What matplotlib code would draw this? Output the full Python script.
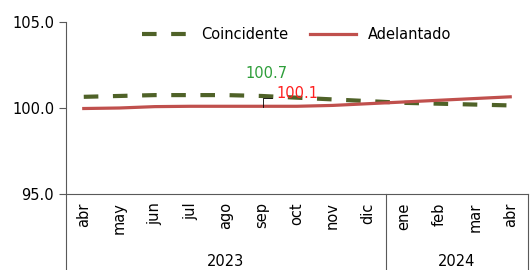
import numpy as np
import matplotlib
matplotlib.use("Agg")
from matplotlib import pyplot as plt

months = ["abr", "may", "jun", "jul", "ago", "sep", "oct", "nov", "dic",
          "ene", "feb", "mar", "abr"]
years = ["2023", "2024"]
year_counts = [9, 4]
coincidente = [100.65, 100.7, 100.75, 100.75, 100.75, 100.7, 100.6, 100.5,
               100.4, 100.3, 100.25, 100.2, 100.15]
adelantado = [99.97, 100.0, 100.08, 100.1, 100.1, 100.1, 100.1, 100.15,
              100.25, 100.35, 100.45, 100.55, 100.65]

green = "#4F6228"
red = "#C0504D"

fig = plt.figure(figsize=(5.3, 2.7), dpi=100)
ax = fig.add_axes([66 / 530, 1 - 194 / 270, 462 / 530, 172 / 270])

x = np.arange(len(months))
ax.plot(x, coincidente, color=green, lw=3, dashes=(3.5, 3.5), label="Coincidente")
ax.plot(x, adelantado, color=red, lw=2.3, label="Adelantado")

ax.set_xlim(-0.5, len(months) - 0.5)
ax.set_ylim(95, 105)
ax.set_yticks([95, 100, 105])
ax.set_yticklabels(["95.0", "100.0", "105.0"], fontsize=10.5)
ax.set_xticks(x)
ax.set_xticklabels(months, rotation=90, fontsize=10.5)
ax.tick_params(axis="x", length=0, pad=6)
ax.tick_params(axis="y", length=5, width=0.8, color="#595959")
for s in ["top", "right"]:
    ax.spines[s].set_visible(False)
ax.spines["left"].set_color("#595959")
ax.spines["bottom"].set_color("#595959")

# labels for sep
ax.annotate("100.7", (5, coincidente[5]), xytext=(5.15, 102.0), color="#2E9E3A",
            fontsize=10.5, ha="center", va="center")
ax.annotate("100.1", (5, adelantado[5]), xytext=(6.0, 100.85), color="#FF2020",
            fontsize=10.5, ha="center", va="center")
ax.plot([5.05, 5.05, 5.3], [100.05, 100.6, 100.6], color="black", lw=0.6)

# year separators and labels
trans = ax.get_xaxis_transform()
bottom = -76 / 172
start = -0.5
for yr, n in zip(years, year_counts):
    ax.plot([start, start], [0, bottom], transform=trans, color="#595959",
            lw=0.8, clip_on=False)
    ax.text(start + n / 2, -0.395, yr, transform=trans, ha="center",
            va="center", fontsize=10.5)
    start += n
ax.plot([start, start], [0, bottom], transform=trans, color="#595959",
        lw=0.8, clip_on=False)

leg = ax.legend(loc="upper center", bbox_to_anchor=(0.5, 1.045), ncol=2,
                frameon=False, fontsize=10.5, handlelength=3.2,
                columnspacing=1.5)

fig.savefig("out.png", dpi=100)
